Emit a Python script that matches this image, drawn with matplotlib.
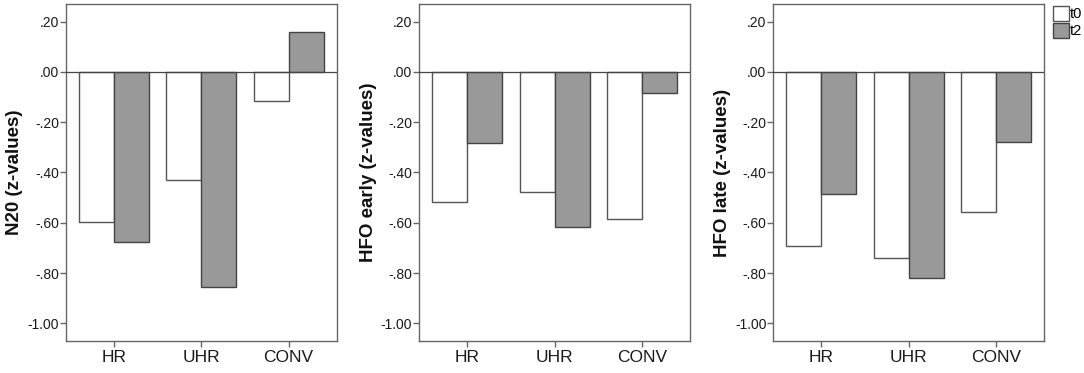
import numpy as np
import matplotlib
matplotlib.use("Agg")
import matplotlib.pyplot as plt
from matplotlib.ticker import FuncFormatter
from matplotlib.patches import Patch

plt.rcParams['font.family'] = ['Liberation Sans', 'DejaVu Sans']

groups = ["HR", "UHR", "CONV"]
series = ["t0", "t2"]
ylabels = ["N20 (z-values)", "HFO early (z-values)", "HFO late (z-values)"]

n20_t0 = [-0.596, -0.431, -0.114]
n20_t2 = [-0.676, -0.854, 0.160]
early_t0 = [-0.517, -0.479, -0.585]
early_t2 = [-0.282, -0.617, -0.085]
late_t0 = [-0.693, -0.742, -0.557]
late_t2 = [-0.485, -0.819, -0.280]

panels = [(n20_t0, n20_t2), (early_t0, early_t2), (late_t0, late_t2)]
yticks = [0.2, 0.0, -0.2, -0.4, -0.6, -0.8, -1.0]


def fmt(v, pos):
    s = "%.2f" % v
    if s == "-0.00":
        s = "0.00"
    return s.replace("0.", ".", 1) if abs(v) < 1 else s


fig = plt.figure(figsize=(10.84, 3.73), dpi=100)
lefts = [0.0609, 0.3868, 0.7134]
x = np.arange(len(groups))
w = 0.4
edge = "#555555"

for i, (t0, t2) in enumerate(panels):
    ax = fig.add_axes([lefts[i], 0.0845, 0.2497, 0.9048])
    ax.bar(x - w / 2, t0, w, color="white", edgecolor=edge, linewidth=1.0, zorder=2)
    ax.bar(x + w / 2, t2, w, color="#999999", edgecolor="#444444", linewidth=1.0, zorder=2)
    ax.axhline(0, color="#444444", linewidth=0.9, zorder=3)
    ax.set_xlim(-0.55, 2.55)
    ax.set_ylim(-1.072, 0.270)
    ax.set_yticks(yticks)
    ax.yaxis.set_major_formatter(FuncFormatter(fmt))
    ax.set_xticks(x)
    ax.set_xticklabels(groups)
    ax.set_ylabel(ylabels[i], fontsize=13.5, fontweight="bold", color="#111111", labelpad=3)
    for sp in ax.spines.values():
        sp.set_color("#666666")
        sp.set_linewidth(1.0)
    ax.tick_params(axis="y", labelsize=10, colors="#666666", labelcolor="#1a1a1a",
                   length=4, width=1, direction="out", pad=1)
    ax.tick_params(axis="x", labelsize=12.5, colors="#666666", labelcolor="#1a1a1a",
                   length=4, width=1, direction="out", pad=2)

handles = [Patch(facecolor="white", edgecolor=edge, label="t0"),
           Patch(facecolor="#999999", edgecolor="#444444", label="t2")]
fig.legend(handles=handles, loc="upper left", bbox_to_anchor=(0.971, 0.985),
           frameon=False, fontsize=10.5, handlelength=1.1, handleheight=1.25,
           handletextpad=0.05, labelspacing=0.1, borderaxespad=0, borderpad=0)

fig.savefig("out.png", dpi=100)
